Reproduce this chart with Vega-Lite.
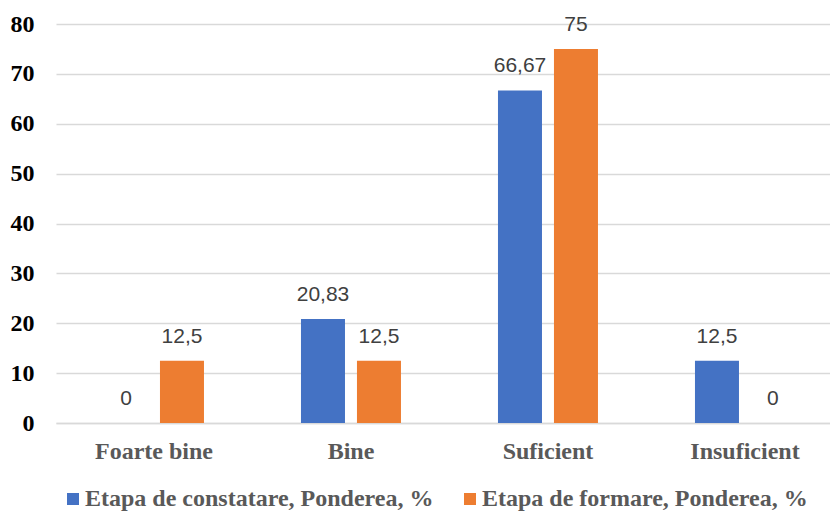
{
  "$schema": "https://vega.github.io/schema/vega-lite/v6.json",
  "autosize": "none",
  "width": 774,
  "height": 399,
  "padding": {"left": 56, "top": 24, "right": 0, "bottom": 91},
  "background": "white",
  "data": {
    "values": [
      {"nivel": "Foarte bine", "etapa": "Etapa de constatare, Ponderea, %", "valoare": 0},
      {"nivel": "Foarte bine", "etapa": "Etapa de formare, Ponderea, %", "valoare": 12.5},
      {"nivel": "Bine", "etapa": "Etapa de constatare, Ponderea, %", "valoare": 20.83},
      {"nivel": "Bine", "etapa": "Etapa de formare, Ponderea, %", "valoare": 12.5},
      {"nivel": "Suficient", "etapa": "Etapa de constatare, Ponderea, %", "valoare": 66.67},
      {"nivel": "Suficient", "etapa": "Etapa de formare, Ponderea, %", "valoare": 75},
      {"nivel": "Insuficient", "etapa": "Etapa de constatare, Ponderea, %", "valoare": 12.5},
      {"nivel": "Insuficient", "etapa": "Etapa de formare, Ponderea, %", "valoare": 0}
    ]
  },
  "encoding": {
    "x": {
      "field": "nivel",
      "type": "nominal",
      "sort": ["Foarte bine", "Bine", "Suficient", "Insuficient"],
      "scale": {"paddingInner": 0.4924, "paddingOuter": 0.2107, "align": 0.578, "round": false},
      "axis": {
        "title": null,
        "labelAngle": 0,
        "labelFont": "Liberation Serif",
        "labelFontSize": 24,
        "labelFontWeight": "bold",
        "labelColor": "#595959",
        "labelPadding": 16,
        "ticks": false,
        "domain": true,
        "domainColor": "#d9d9d9",
        "domainWidth": 1.5,
        "grid": false
      }
    },
    "xOffset": {
      "field": "etapa",
      "type": "nominal",
      "sort": ["Etapa de constatare, Ponderea, %", "Etapa de formare, Ponderea, %"],
      "scale": {"paddingInner": 0.214, "paddingOuter": 0, "round": false}
    },
    "y": {
      "field": "valoare",
      "type": "quantitative",
      "scale": {"domain": [0, 80], "nice": false},
      "axis": {
        "title": null,
        "values": [0, 10, 20, 30, 40, 50, 60, 70, 80],
        "labelFont": "Liberation Serif",
        "labelFontSize": 24,
        "labelFontWeight": "bold",
        "labelColor": "#000000",
        "labelPadding": 22,
        "ticks": false,
        "domain": false,
        "grid": true,
        "gridColor": "#d9d9d9",
        "gridWidth": 1.5
      }
    }
  },
  "layer": [
    {
      "mark": {"type": "bar"},
      "encoding": {
        "color": {
          "field": "etapa",
          "type": "nominal",
          "scale": {
            "domain": ["Etapa de constatare, Ponderea, %", "Etapa de formare, Ponderea, %"],
            "range": ["#4472c4", "#ed7d31"]
          },
          "legend": {
            "title": null,
            "orient": "none",
            "direction": "horizontal",
            "legendX": 5,
            "legendY": 463,
            "symbolType": "square",
            "symbolSize": 144,
            "symbolStrokeWidth": 0,
            "labelFont": "Liberation Serif",
            "labelFontSize": 24,
            "labelFontWeight": "bold",
            "labelColor": "#595959",
            "labelOffset": 0,
            "labelLimit": 0,
            "columnPadding": 24
          }
        }
      }
    },
    {
      "mark": {
        "type": "text",
        "baseline": "alphabetic",
        "dy": -18,
        "font": "Liberation Sans",
        "fontSize": 21,
        "color": "#404040"
      },
      "encoding": {
        "text": {"field": "valoare", "type": "quantitative", "format": "~g"}
      }
    }
  ],
  "config": {
    "view": {"stroke": null},
    "locale": {
      "number": {"decimal": ",", "thousands": ".", "grouping": [3], "currency": ["", ""]}
    }
  }
}
